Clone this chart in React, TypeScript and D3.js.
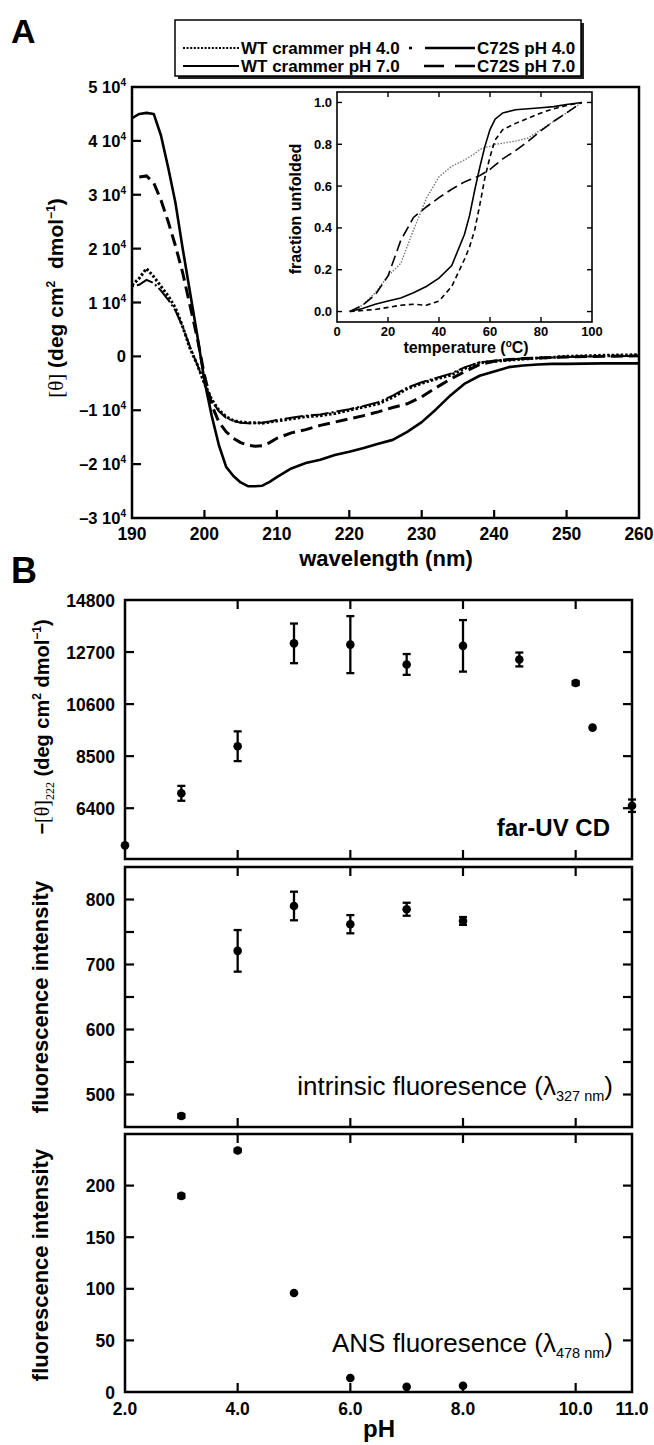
import React from "react";
import * as d3 from "d3";

// ---------- Panel A: CD spectra ----------
const wavelengths = [190,191,192,193,194,195,196,197,198,199,200,201,202,203,204,205,206,207,208,209,210,212,214,216,218,220,222,224,226,228,230,232,234,236,238,240,242,244,246,248,250,255,260];
const wtPH40 = [1.32,1.45,1.63,1.48,1.30,1.12,0.90,0.55,0.15,-0.15,-0.50,-0.80,-1.00,-1.12,-1.19,-1.22,-1.23,-1.23,-1.24,-1.22,-1.20,-1.16,-1.12,-1.10,-1.06,-1.00,-0.94,-0.88,-0.76,-0.60,-0.50,-0.42,-0.35,-0.22,-0.12,-0.09,-0.07,-0.05,-0.03,-0.02,0.00,0.02,0.03];
const wtPH70 = [4.42,4.50,4.52,4.50,4.10,3.50,2.85,2.00,1.20,0.40,-0.45,-1.10,-1.65,-2.05,-2.22,-2.34,-2.41,-2.41,-2.40,-2.33,-2.24,-2.08,-1.98,-1.92,-1.83,-1.77,-1.70,-1.62,-1.55,-1.40,-1.22,-0.98,-0.72,-0.50,-0.36,-0.28,-0.20,-0.17,-0.15,-0.14,-0.14,-0.13,-0.13];
const c72sPH40 = [1.30,1.33,1.42,1.36,1.22,1.05,0.85,0.55,0.18,-0.15,-0.50,-0.82,-1.02,-1.14,-1.20,-1.23,-1.24,-1.24,-1.23,-1.21,-1.18,-1.14,-1.10,-1.08,-1.03,-0.98,-0.92,-0.85,-0.73,-0.58,-0.48,-0.40,-0.32,-0.20,-0.11,-0.08,-0.06,-0.04,-0.03,-0.02,-0.01,0.00,0.01];
const c72sPH70 = [null,3.33,3.35,3.22,2.90,2.50,2.05,1.55,0.95,0.35,-0.35,-0.90,-1.22,-1.40,-1.52,-1.60,-1.65,-1.67,-1.66,-1.60,-1.52,-1.42,-1.36,-1.28,-1.22,-1.16,-1.10,-1.03,-0.95,-0.88,-0.75,-0.58,-0.42,-0.28,-0.15,-0.09,-0.06,-0.04,-0.03,-0.02,-0.01,0.00,0.01];
const ellipTicks = [-3,-2,-1,0,1,2,3,4,5];
const wlTicks = [190,200,210,220,230,240,250,260];

// ---------- Inset: thermal unfolding ----------
const temps = [5,10,15,20,25,30,35,40,45,50,52,54,56,58,60,62,65,70,75,80,85,90,96];
const fuWT70 = [0,0.015,0.035,0.05,0.065,0.09,0.12,0.16,0.22,0.37,0.46,0.58,0.69,0.79,0.87,0.92,0.95,0.965,0.97,0.975,0.98,0.99,1.0];
const fuC72S70 = [0,0.005,0.01,0.02,0.03,0.035,0.03,0.05,0.12,0.25,0.31,0.39,0.51,0.64,0.74,0.82,0.87,0.90,0.925,0.95,0.97,0.985,1.0];
const fuWT40 = [0,0.03,0.09,0.17,0.23,0.39,0.54,0.645,0.695,0.725,0.74,0.755,0.775,0.785,0.79,0.80,0.805,0.815,0.83,0.87,0.91,0.95,1.0];
const fuC72S40 = [0,0.03,0.08,0.17,0.34,0.45,0.50,0.545,0.585,0.62,0.63,0.64,0.65,0.665,0.68,0.70,0.73,0.77,0.815,0.865,0.91,0.95,1.0];
const insetTempTicks = [0,20,40,60,80,100];
const insetFracTicks = [0,0.2,0.4,0.6,0.8,1.0];

// ---------- Panel B ----------
const phCD = [2,3,4,5,6,7,8,9,10,10.3,11];
const cdValues = [4900,7000,8900,13050,13000,12200,12950,12400,11450,9650,6500];
const cdErrors = [0,300,600,800,1150,420,1040,280,80,0,250];
const phFluo = [3,4,5,6,7,8];
const fluoValues = [467,721,790,762,785,767];
const fluoErrors = [3,32,22,14,10,6];
const phANS = [3,4,5,6,7,8];
const ansValues = [190,234,96,13.5,5,6];
const ansErrors = [2,1.5,0,0,0,0];
const cdTicks = [6400,8500,10600,12700,14800];
const fluoTicks = [500,600,700,800];
const fluoMinorTicks = [550,650,750];
const ansTicks = [0,50,100,150,200];
const phTickMarks = [4,6,8,10];
const phLabelValues = [2,4,6,8,10,11];
const phLabels = ["2.0","4.0","6.0","8.0","10.0","11.0"];

const FONT = "'Liberation Sans', Arial, Helvetica, sans-serif";
const SERIF = "'Liberation Serif', 'DejaVu Serif', serif";

export default function App() {
  const xA = d3.scaleLinear().domain([190, 260]).range([132, 639]);
  const yA = d3.scaleLinear().domain([-3, 5]).range([518, 87]);
  const lineA = d3.line<any>()
    .defined((d: any) => d != null)
    .x((_d: any, i: number) => xA(wavelengths[i]))
    .y((d: any) => yA(d));

  const xI = d3.scaleLinear().domain([0, 100]).range([337, 592]);
  const yI = d3.scaleLinear().domain([-0.05, 1.05]).range([322, 92]);
  const lineI = d3.line<number>()
    .x((_d: number, i: number) => xI(temps[i]))
    .y((d: number) => yI(d));

  const xB = d3.scaleLinear().domain([2, 11]).range([125, 632]);
  const yB1 = d3.scaleLinear().domain([4350, 14800]).range([859, 600]);
  const yB2 = d3.scaleLinear().domain([450, 850]).range([1127, 867]);
  const yB3 = d3.scaleLinear().domain([0, 250]).range([1392, 1134]);

  const tl = 9;

  const renderPanelB = (
    key: string,
    yS: any,
    ticks: number[],
    minor: number[],
    phs: number[],
    vals: number[],
    errs: number[]
  ) => {
    const [yb, yt] = yS.range();
    const [d0, d1] = yS.domain();
    const allTicks = [...ticks, ...minor].filter((v) => v > d0 && v < d1);
    return (
      <g key={key}>
        <rect x={125} y={yt} width={507} height={yb - yt} fill="none" stroke="#000" strokeWidth={2.5} />
        {phTickMarks.map((p) => (
          <g key={"pt" + p} stroke="#000" strokeWidth={2.2}>
            <line x1={xB(p)} x2={xB(p)} y1={yt} y2={yt + tl} />
            <line x1={xB(p)} x2={xB(p)} y1={yb} y2={yb - tl} />
          </g>
        ))}
        {allTicks.map((v) => (
          <g key={"yt" + v} stroke="#000" strokeWidth={2.2}>
            <line x1={125} x2={125 + tl} y1={yS(v)} y2={yS(v)} />
            <line x1={632} x2={632 - tl} y1={yS(v)} y2={yS(v)} />
          </g>
        ))}
        {ticks.map((v) => (
          <text key={"yl" + v} x={115} y={yS(v) + 6.5} textAnchor="end" fontSize={17.5} fontWeight="bold">
            {String(v)}
          </text>
        ))}
        {phs.map((p, i) => {
          const cx = xB(p);
          const cy = yS(vals[i]);
          const e = errs[i];
          return (
            <g key={"pt" + i}>
              {e > 0 && (
                <g stroke="#000" strokeWidth={2.3}>
                  <line x1={cx} x2={cx} y1={yS(vals[i] - e)} y2={yS(vals[i] + e)} />
                  <line x1={cx - 4} x2={cx + 4} y1={yS(vals[i] - e)} y2={yS(vals[i] - e)} />
                  <line x1={cx - 4} x2={cx + 4} y1={yS(vals[i] + e)} y2={yS(vals[i] + e)} />
                </g>
              )}
              <circle cx={cx} cy={cy} r={4.3} fill="#000" />
            </g>
          );
        })}
      </g>
    );
  };

  const fmtA = (v: number) => {
    if (v === 0) return <tspan>0</tspan>;
    return (
      <>
        <tspan>{(v < 0 ? "\u2013" : "") + Math.abs(v) + " 10"}</tspan>
        <tspan dy={-7} fontSize={10}>4</tspan>
      </>
    );
  };

  return (
    <svg
      width={654}
      height={1445}
      viewBox="0 0 654 1445"
      style={{ position: "absolute", left: 0, top: 0, background: "#fff" }}
      fontFamily={FONT}
    >
      <rect x={0} y={0} width={654} height={1445} fill="#fff" />

      {/* Panel letters */}
      <text x={11} y={43} fontSize={34} fontWeight="bold">A</text>
      <text x={11} y={583} fontSize={36} fontWeight="bold">B</text>

      {/* Legend */}
      <rect x={178} y={23} width={406} height={56} fill="#222" />
      <rect x={175} y={20} width={406} height={56} fill="#fff" stroke="#000" strokeWidth={1.5} />
      <line x1={183} x2={239} y1={48} y2={48} stroke="#000" strokeWidth={2.2} strokeDasharray="2,1.6" />
      <text x={241} y={54} fontSize={17} fontWeight="bold">WT crammer pH 4.0</text>
      <line x1={183} x2={239} y1={66} y2={66} stroke="#000" strokeWidth={2.2} />
      <text x={241} y={72} fontSize={17} fontWeight="bold">WT crammer pH 7.0</text>
      <line x1={409} x2={475} y1={48} y2={48} stroke="#000" strokeWidth={2.4} strokeDasharray="3,13,50,0" />
      <text x={477} y={54} fontSize={17} fontWeight="bold">C72S pH 4.0</text>
      <line x1={424} x2={475} y1={66} y2={66} stroke="#000" strokeWidth={2.4} strokeDasharray="20,11" />
      <text x={477} y={72} fontSize={17} fontWeight="bold">C72S pH 7.0</text>

      {/* Panel A frame */}
      <rect x={132} y={87} width={507} height={431} fill="none" stroke="#000" strokeWidth={2.5} />
      {ellipTicks.filter((v) => v > -3 && v < 5).map((v) => (
        <line key={"ea" + v} x1={132} x2={132 + tl} y1={yA(v)} y2={yA(v)} stroke="#000" strokeWidth={2.2} />
      ))}
      {wlTicks.filter((v) => v > 190 && v < 260).map((v) => (
        <line key={"wa" + v} x1={xA(v)} x2={xA(v)} y1={518} y2={518 - 8} stroke="#000" strokeWidth={2.2} />
      ))}
      {ellipTicks.map((v) => (
        <text key={"el" + v} x={126} y={yA(v) + 6} textAnchor="end" fontSize={16.5} fontWeight="bold">
          {fmtA(v)}
        </text>
      ))}
      {wlTicks.map((v) => (
        <text key={"wl" + v} x={xA(v)} y={540} textAnchor="middle" fontSize={17.5} fontWeight="bold">
          {String(v)}
        </text>
      ))}
      <text x={386} y={566} textAnchor="middle" fontSize={22} fontWeight="bold">wavelength (nm)</text>
      <text transform="translate(63,298) rotate(-90)" textAnchor="middle" fontSize={21} fontWeight="bold">
        <tspan fontFamily={SERIF} fontWeight="normal">{"[\u03B8]"}</tspan>
        <tspan>{" (deg cm"}</tspan>
        <tspan dy={-8} fontSize={12}>2</tspan>
        <tspan dy={8}>{"\u00A0 dmol"}</tspan>
        <tspan dy={-8} fontSize={12}>{"\u22121"}</tspan>
        <tspan dy={8}>)</tspan>
      </text>

      {/* Panel A curves */}
      <path d={lineA(wtPH70) || ""} fill="none" stroke="#000" strokeWidth={2.6} strokeLinejoin="round" />
      <path d={lineA(c72sPH70) || ""} fill="none" stroke="#000" strokeWidth={3} strokeDasharray="12,6" />
      <path d={lineA(c72sPH40) || ""} fill="none" stroke="#000" strokeWidth={2} strokeDasharray="2,3,18,3" />
      <path d={lineA(wtPH40) || ""} fill="none" stroke="#000" strokeWidth={3} strokeDasharray="2.5,2" />

      {/* Inset */}
      <rect x={337} y={92} width={255} height={230} fill="#fff" stroke="#000" strokeWidth={1.6} />
      {insetTempTicks.filter((v) => v > 0 && v < 100).map((v) => (
        <g key={"it" + v} stroke="#000" strokeWidth={1.4}>
          <line x1={xI(v)} x2={xI(v)} y1={92} y2={97} />
          <line x1={xI(v)} x2={xI(v)} y1={322} y2={317} />
        </g>
      ))}
      {insetFracTicks.map((v) => (
        <g key={"if" + v} stroke="#000" strokeWidth={1.4}>
          <line x1={337} x2={342} y1={yI(v)} y2={yI(v)} />
          <line x1={592} x2={587} y1={yI(v)} y2={yI(v)} />
        </g>
      ))}
      {insetFracTicks.map((v) => (
        <text key={"ifl" + v} x={332} y={yI(v) + 4.5} textAnchor="end" fontSize={13} fontWeight="bold">
          {v.toFixed(1)}
        </text>
      ))}
      {insetTempTicks.map((v) => (
        <text key={"itl" + v} x={xI(v)} y={336} textAnchor="middle" fontSize={13} fontWeight="bold">
          {String(v)}
        </text>
      ))}
      <text x={466} y={353} textAnchor="middle" fontSize={16} fontWeight="bold">
        <tspan>{"temperature ("}</tspan>
        <tspan dy={-6} fontSize={10}>o</tspan>
        <tspan dy={6}>C)</tspan>
      </text>
      <text transform="translate(301,209) rotate(-90)" textAnchor="middle" fontSize={16} fontWeight="bold">
        fraction unfolded
      </text>
      <path d={lineI(fuWT40) || ""} fill="none" stroke="#777" strokeWidth={1.4} strokeDasharray="1.5,1.5" />
      <path d={lineI(fuC72S40) || ""} fill="none" stroke="#000" strokeWidth={1.6} strokeDasharray="11,5" />
      <path d={lineI(fuC72S70) || ""} fill="none" stroke="#000" strokeWidth={1.6} strokeDasharray="5,3.5" />
      <path d={lineI(fuWT70) || ""} fill="none" stroke="#000" strokeWidth={1.6} />

      {/* Panel B */}
      {renderPanelB("b1", yB1, cdTicks, [], phCD, cdValues, cdErrors)}
      {renderPanelB("b2", yB2, fluoTicks, fluoMinorTicks, phFluo, fluoValues, fluoErrors)}
      {renderPanelB("b3", yB3, ansTicks, [], phANS, ansValues, ansErrors)}

      <text transform="translate(49,727) rotate(-90)" textAnchor="middle" fontSize={20} fontWeight="bold">
        <tspan>{"\u2212"}</tspan>
        <tspan fontFamily={SERIF} fontWeight="normal">{"[\u03B8]"}</tspan>
        <tspan dy={5} fontSize={12} fontFamily={SERIF} fontWeight="normal">222</tspan>
        <tspan dy={-5}>{" (deg cm"}</tspan>
        <tspan dy={-8} fontSize={12}>2</tspan>
        <tspan dy={8}>{" dmol"}</tspan>
        <tspan dy={-8} fontSize={12}>{"\u22121"}</tspan>
        <tspan dy={8}>)</tspan>
      </text>
      <text transform="translate(48,997) rotate(-90)" textAnchor="middle" fontSize={22} fontWeight="bold">
        fluorescence intensity
      </text>
      <text transform="translate(48,1265) rotate(-90)" textAnchor="middle" fontSize={22} fontWeight="bold">
        fluorescence intensity
      </text>

      <text x={610} y={836} textAnchor="end" fontSize={24} fontWeight="bold">far-UV CD</text>
      <text x={613} y={1095} textAnchor="end" fontSize={26}>
        <tspan>{"intrinsic fluoresence (\u03BB"}</tspan>
        <tspan dy={6} fontSize={14.5}>327 nm</tspan>
        <tspan dy={-6}>)</tspan>
      </text>
      <text x={613} y={1352} textAnchor="end" fontSize={26}>
        <tspan>{"ANS fluoresence (\u03BB"}</tspan>
        <tspan dy={6} fontSize={14.5}>478 nm</tspan>
        <tspan dy={-6}>)</tspan>
      </text>

      {phLabelValues.map((p, i) => (
        <text key={"phl" + p} x={xB(p)} y={1415} textAnchor="middle" fontSize={17.5} fontWeight="bold">
          {phLabels[i]}
        </text>
      ))}
      <text x={379} y={1437} textAnchor="middle" fontSize={24} fontWeight="bold">pH</text>
    </svg>
  );
}
